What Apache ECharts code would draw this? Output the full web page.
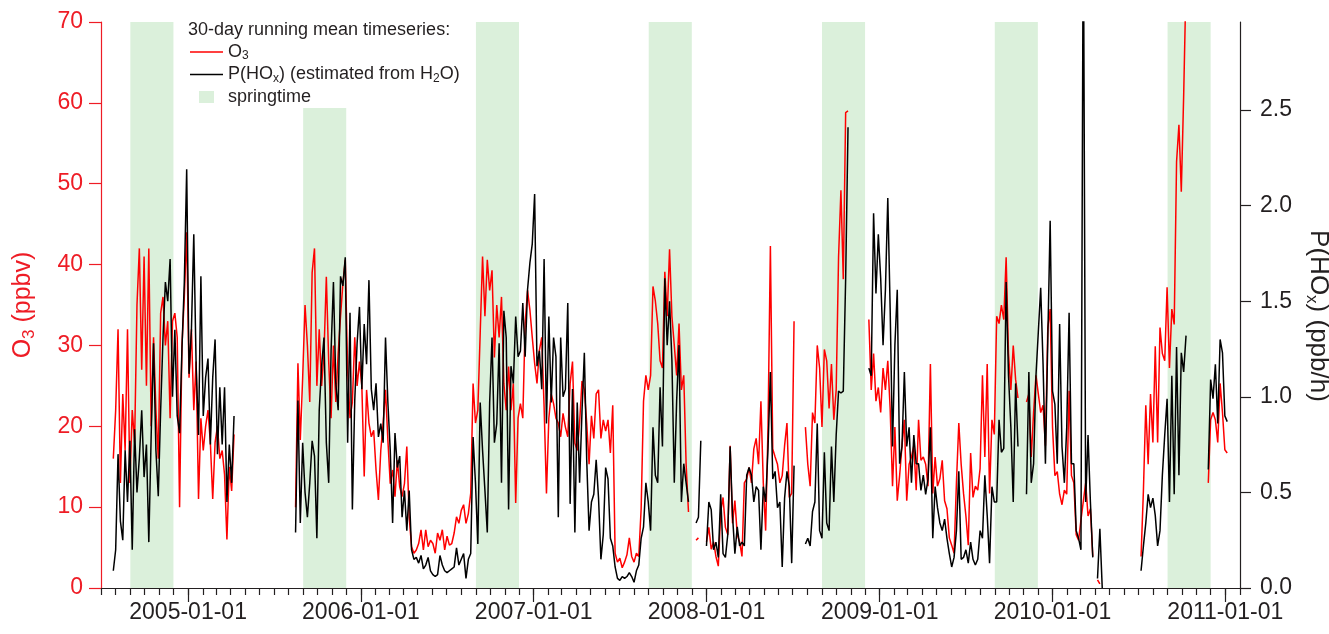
<!DOCTYPE html>
<html><head><meta charset="utf-8">
<script src="https://cdn.jsdelivr.net/npm/echarts@6/dist/echarts.min.js"></script>
<style>html,body{margin:0;padding:0;background:#fff}#c{width:1329px;height:634px}</style>
</head><body><div id="c"></div>
<script>
// ---- data: 30-day running means sampled every 5 days, one pair of arrays per measurement period ----
const STEP_DAYS = 5;
const start_s1 = '2004-07-27';
const o3_s1 = [16,22,32,13,24,17,32,13,22,18,35,42,27,41,25,42,20,31,22,16,34,36,30,33,21,33,34,31,10,30,36,44,26,32,22,28,11,21,17,20,22,18,11,18,20,16,17,14,6,15,12,19];
const hox_s1 = [0.09,0.2,0.7,0.35,0.25,0.72,0.45,0.77,0.2,0.83,0.5,0.68,0.93,0.58,0.75,0.24,0.8,1.28,0.72,0.48,0.93,1.31,1.6,1.5,1.72,1.0,1.35,0.9,0.81,1.25,1.6,2.19,1.12,1.35,1.85,1.16,0.8,1.63,0.9,1.1,1.2,0.75,1.1,1.3,0.7,1.05,0.75,1.05,0.45,0.75,0.55,0.9];

const start_s2 = '2005-08-16';
const o3_s2 = [10,27.8,18.3,26,35,30,23,39,42,25,
 32,25,29,38.5,28,21,30,23,29,33.6,
 37.7,40.6,27,21,23,31,25,28,25,13.8,
 24.5,20.4,18.7,19.5,14.6,10.9,17,20.4,24.5,18.3,
 12.9,14.6,11.3,15.8,12.5,11.3,12.9,17.5,8.8,5.1,
 4.3,4.7,5.5,7.2,4.7,7.2,5.1,5.9,5.5,4.3,
 6.8,5.9,7.2,4.7,6.4,5.3,5.5,6.8,8.8,8,
 9.6,10.3,8,9.2,11.7,25.3,20.4,22,31.5,41,
 33.6,40.6,36.8,39.3,28.5,35,31,36,25.3,22,
 27.4,22,25.3,10.5,21,22.8,21,32.7,36.8,34.4,
 31,27.8,25.3,29.4,31,22.4,11.7,21,24,22.8,
 21,20.4,18.7,21.6,19.9,18.7,25.3,28,17.9,17,
 20.4,25.6,24.5,20.4,15.3,21.3,18.5,24,24.5,18.5,
 20.8,19.4,20.8,16.7,22.6,4.3,3.2,3.7,2.5,3.2,
 4.1,6.2,3.9,3.2,4.3,3.9,9.8,23.1,26.3,24.5,
 26.3,37.3,35.5,32.7,28.1,27.2,39.1,33.6,41.9,33.6,
 30,26.3,32.7,24.5,26.3,15.3,9.4];
const hox_s2 = [0.29,0.98,0.34,0.76,0.5,0.37,0.55,0.77,0.69,0.26,
 0.93,1.16,1.31,0.76,0.55,1.24,1.6,1.07,0.93,1.63,
 1.58,1.73,0.76,1.44,0.41,0.98,1.28,1.47,1.04,1.38,
 1.17,1.61,1.04,0.93,1.07,0.79,0.86,0.76,1.31,0.97,
 0.72,0.34,0.81,0.63,0.69,0.37,0.51,0.3,0.51,0.2,
 0.15,0.16,0.13,0.17,0.1,0.12,0.16,0.09,0.07,0.06,
 0.07,0.17,0.12,0.09,0.08,0.09,0.1,0.11,0.21,0.12,
 0.15,0.18,0.05,0.15,0.18,0.79,0.55,0.23,0.97,0.72,
 0.51,0.29,0.97,1.31,0.76,0.86,1.28,0.55,1.45,1.31,
 0.41,1.16,1.07,1.42,1.21,1.24,1.49,1.21,1.56,1.7,
 1.8,2.06,1.16,1.24,1.04,1.72,0.86,1.42,0.97,1.31,
 1.21,0.37,1.31,1.0,1.04,1.49,0.44,1.04,0.29,0.97,
 0.55,0.92,1.23,0.67,0.3,0.45,0.49,0.67,0.47,0.15,
 0.28,0.63,0.57,0.26,0.22,0.11,0.05,0.04,0.06,0.05,
 0.06,0.08,0.06,0.03,0.09,0.12,0.26,0.32,0.55,0.45,
 0.3,0.84,0.59,0.55,1.05,0.74,1.62,1.27,1.5,1.19,
 0.55,0.98,1.27,0.45,0.65,0.55,0.45];

const start_s3 = '2007-12-10';
const o3_s3 = [5.9,6.2];
const hox_s3 = [0.34,0.37,0.77];

const start_s4 = '2008-01-01';
const o3_s4 = [5.7,7.5,4.8,5.7,3.9,2.7,9.4,11.2,7.5,6.6,17.6,8,10.8,6.6,5.7,3.9,13,13.5,14.9,13,17.2,18.5,15.3,23.1,13,7.1,19.9,42.3,17.2,16.2,15.3,13,13.9,17.6,20.4,11.2,11.7,33];
const hox_s4 = [0.22,0.45,0.41,0.2,0.24,0.16,0.49,0.18,0.16,0.28,0.74,0.38,0.18,0.32,0.22,0.24,0.22,0.59,0.63,0.59,0.45,0.53,0.51,0.2,0.53,0.45,0.73,1.13,0.57,0.61,0.42,0.45,0.11,0.47,0.61,0.53,0.13,0.64];

const start_s5 = '2008-07-28';
const o3_s5 = [19.9,15.3,12.6,21.7,20.4,30,27.2,19.9,29.5,28.1,22.2,27.7,20.8,24.5,40.9,49.2,38.2,58.8,59];
const hox_s5 = [0.23,0.26,0.22,0.4,0.45,0.86,0.3,0.26,0.71,0.34,0.3,0.74,0.45,0.8,1.03,1.02,1.03,1.62,2.41];

const start_s6 = '2008-12-09';
const o3_s6 = [33.2,24.5,29,23.1,24.8,21.7,27.2,24.5,28.1,22.2,12.6,19.9,10.8,13.9,17.6,20.8,10.8,15.3,16.2,17.6,12.1,20.8,15.8,16.2,15.3,12.6,27.7,11.7,16.2,12.6,13.5,15.8,10.8,9.8,6.2,5.3,4.3,13,20.4,15.3,11.7,8.9,5.3,16.7,11.2,12.6,12.1,14.8,26.3,16.2,27.7,11.7,20.8,19,33.6,32.7,35,33.2,40.9,29,24.5,30,25.8,23.5];
const hox_s6 = [1.15,1.11,1.96,1.54,1.85,1.62,1.27,1.56,2.04,1.46,0.74,1.27,1.56,0.65,0.74,1.13,0.74,0.84,0.55,0.8,0.65,0.65,0.51,0.59,0.49,0.57,0.84,0.26,0.53,0.42,0.34,0.3,0.36,0.26,0.18,0.11,0.16,0.3,0.61,0.15,0.16,0.2,0.13,0.24,0.15,0.12,0.15,0.3,0.26,0.59,0.38,0.13,0.53,0.45,0.45,0.88,0.71,0.73,1.6,1.11,0.84,0.45,1.07,0.74];

const start_s7 = '2009-11-07';
const o3_s7 = [23,24,16.2,21.7,26.3,24,21.7,22.6,17.6,32.2,34.5,19.9,13.9,14.4,11.6,10.3,12.1,11.6,24.4,13.9,13,6.6,5.9,8.4,10.7,13,8.9,9.8,3.9];
const hox_s7 = [0.49,1.13,0.55,0.65,1.11,1.34,1.57,1.17,0.65,1.3,1.92,1.03,0.96,0.65,1.38,0.74,0.55,0.84,1.44,0.65,0.65,0.3,0.26,0.2,3.6,0.45,0.8,0.45,0.16];

const start_s8 = '2010-04-06';
const o3_s8 = [1.0,0.5];
const hox_s8 = [0.05,0.31,0.0];

const start_s9 = '2010-07-07';
const o3_s9 = [3.9,12.1,22.6,15.3,24,18,29.9,18,32.2,29,28.1,37.2,27.2,34.5,32.6,52.7,57.3,49,60.9,75];
const hox_s9 = [0.09,0.22,0.34,0.49,0.42,0.47,0.38,0.22,0.3,0.59,0.8,0.99,0.45,1.11,0.49,1.26,0.59,1.23,1.13,1.32];

const start_s10 = '2010-11-26';
const o3_s10 = [13,20.8,21.7,20.8,18,25.3,21.7,17.1,16.7];
const hox_s10 = [0.62,1.09,0.99,1.17,0.86,1.3,1.23,0.9,0.87];

// springtime (Sep-Nov) bands
const springStart = ['2004-09-01','2005-09-01','2006-09-01','2007-09-01','2008-09-01','2009-09-01','2010-09-01'];
const springEnd   = ['2004-12-01','2005-12-01','2006-12-01','2007-12-01','2008-12-01','2009-12-01','2010-12-01'];
const yearLabels = ['2005-01-01','2006-01-01','2007-01-01','2008-01-01','2009-01-01','2010-01-01','2011-01-01'];
const hoxTicks = [0,0.5,1.0,1.5,2.0,2.5];

// ---- build ----
const DAY = 86400000;
function D(s){ const p = s.split('-').map(Number); return Date.UTC(p[0], p[1]-1, p[2]); }
const segments = [
  [start_s1,o3_s1,hox_s1],[start_s2,o3_s2,hox_s2],[start_s3,o3_s3,hox_s3],[start_s4,o3_s4,hox_s4],
  [start_s5,o3_s5,hox_s5],[start_s6,o3_s6,hox_s6],[start_s7,o3_s7,hox_s7],[start_s8,o3_s8,hox_s8],
  [start_s9,o3_s9,hox_s9],[start_s10,o3_s10,hox_s10]
];
function build(idx){
  const out = [];
  segments.forEach(s => {
    const t0 = D(s[0]); const arr = s[idx];
    arr.forEach((v,i) => out.push([t0 + i*STEP_DAYS*DAY, v]));
    out.push([t0 + arr.length*STEP_DAYS*DAY, '-']);
  });
  return out;
}
const o3Data = build(1), hoxData = build(2);
const xMin = D('2004-07-01'), xMax = D('2011-02-01');
const months = [];
for (let y = 2004; y <= 2011; y++) for (let m = 0; m < 12; m++) {
  const t = Date.UTC(y, m, 1); if (t >= xMin && t <= xMax) months.push(t);
}
const yearTicks = yearLabels.map(D);
const RED = '#ee1c25', INK = '#231f20', FONT = '"Liberation Sans", Arial, Helvetica, sans-serif';
const GREEN = '#dbf0db';
const LINE_ICON = 'path://M0,0H33V1.4H0Z';

const chart = echarts.init(document.getElementById('c'), null, {renderer:'canvas'});
chart.setOption({
  animation:false,
  backgroundColor:'#fff',
  textStyle:{fontFamily:FONT},
  grid:{left:101, right:89, top:22, bottom:46, containLabel:false, outerBoundsMode:'none'},
  xAxis:[{
    type:'value', min:xMin, max:xMax, scale:true,
    axisLine:{show:true, onZero:false, lineStyle:{color:INK, width:1.2}},
    axisTick:{show:true, length:14, customValues:yearTicks, lineStyle:{color:INK, width:1.2}},
    axisLabel:{show:true, customValues:yearTicks, fontSize:23, color:INK, margin:13, fontFamily:FONT,
      showMinLabel:true, showMaxLabel:true, hideOverlap:false,
      formatter: v => { const d = new Date(v); return d.getUTCFullYear() + '-01-01'; }},
    splitLine:{show:false}
  },{
    type:'value', min:xMin, max:xMax, position:'bottom', scale:true,
    axisLine:{show:false, onZero:false}, axisLabel:{show:false}, splitLine:{show:false},
    axisTick:{show:true, length:7, customValues:months, lineStyle:{color:INK, width:1.2}}
  }],
  yAxis:[{
    type:'value', min:0, max:70, interval:10, position:'left',
    axisLine:{show:true, lineStyle:{color:RED, width:1.2}},
    axisTick:{show:true, length:12, lineStyle:{color:RED, width:1.2}},
    axisLabel:{fontSize:23, color:RED, margin:18, fontFamily:FONT},
    splitLine:{show:false},
    name:'{n|O}{s|3}{n| (ppbv)}', nameLocation:'middle', nameGap:63,
    nameTextStyle:{color:RED, fontFamily:FONT, rich:{
      n:{fontSize:25, lineHeight:30, color:RED, fontFamily:FONT},
      s:{fontSize:17, lineHeight:16, verticalAlign:'bottom', color:RED, fontFamily:FONT}}}
  },{
    type:'value', min:0, max:2.96, position:'right',
    axisLine:{show:true, lineStyle:{color:INK, width:1.2}},
    axisTick:{show:true, length:11, customValues:hoxTicks, lineStyle:{color:INK, width:1.2}},
    axisLabel:{fontSize:23, color:INK, margin:20, fontFamily:FONT, customValues:hoxTicks,
      formatter: v => v.toFixed(1)},
    splitLine:{show:false},
    name:'{n|P(HO}{s|x}{n|) (ppb/h)}', nameLocation:'middle', nameGap:62, nameRotate:-90,
    nameTextStyle:{color:INK, fontFamily:FONT, padding:[0,0,0,22], rich:{
      n:{fontSize:26, lineHeight:30, color:INK, fontFamily:FONT},
      s:{fontSize:17, lineHeight:16, verticalAlign:'bottom', color:INK, fontFamily:FONT}}}
  }],
  legend:{
    orient:'vertical', left:190, top:43, itemWidth:33, itemHeight:12, itemGap:3.5, padding:0,
    selectedMode:false, z:6,
    data:[{name:'O3', icon:LINE_ICON},{name:'PHOx', icon:LINE_ICON},{name:'springtime', icon:'path://M0,0H15V12H0Z'}],
    formatter: n => ({O3:'{n|O}{s|3}', PHOx:'{n|P(HO}{s|x}{n|) (estimated from H}{s|2}{n|O)}', springtime:'{n|springtime}'})[n],
    textStyle:{fontSize:18, color:INK, fontFamily:FONT, rich:{
      n:{fontSize:18, lineHeight:20, color:INK, fontFamily:FONT},
      s:{fontSize:12, lineHeight:10, verticalAlign:'bottom', color:INK, fontFamily:FONT}}}
  },
  graphic:[
    {type:'rect', z:3, silent:true, shape:{x:180, y:22, width:292, height:86}, style:{fill:'#fff'}},
    {type:'text', z:7, left:188, top:21, style:{text:'30-day running mean timeseries:', fontSize:18, fill:INK, fontFamily:FONT}}
  ],
  series:[
    {name:'springtime', type:'line', data:[], z:0, symbol:'none',
     itemStyle:{color:GREEN}, lineStyle:{color:GREEN},
     markArea:{silent:true, z:0, itemStyle:{color:GREEN}, label:{show:false},
       data: springStart.map((s,i) => [{xAxis:D(s)}, {xAxis:D(springEnd[i])}])}},
    {name:'O3', type:'line', xAxisIndex:0, yAxisIndex:0, data:o3Data, symbol:'none', showSymbol:false,
     connectNulls:false, lineStyle:{color:'#ff0000', width:1.5}, itemStyle:{color:'#ff0000'}, z:2},
    {name:'PHOx', type:'line', xAxisIndex:0, yAxisIndex:1, data:hoxData, symbol:'none', showSymbol:false,
     connectNulls:false, lineStyle:{color:'#000000', width:1.5}, itemStyle:{color:'#000000'}, z:2}
  ]
});
</script></body></html>
